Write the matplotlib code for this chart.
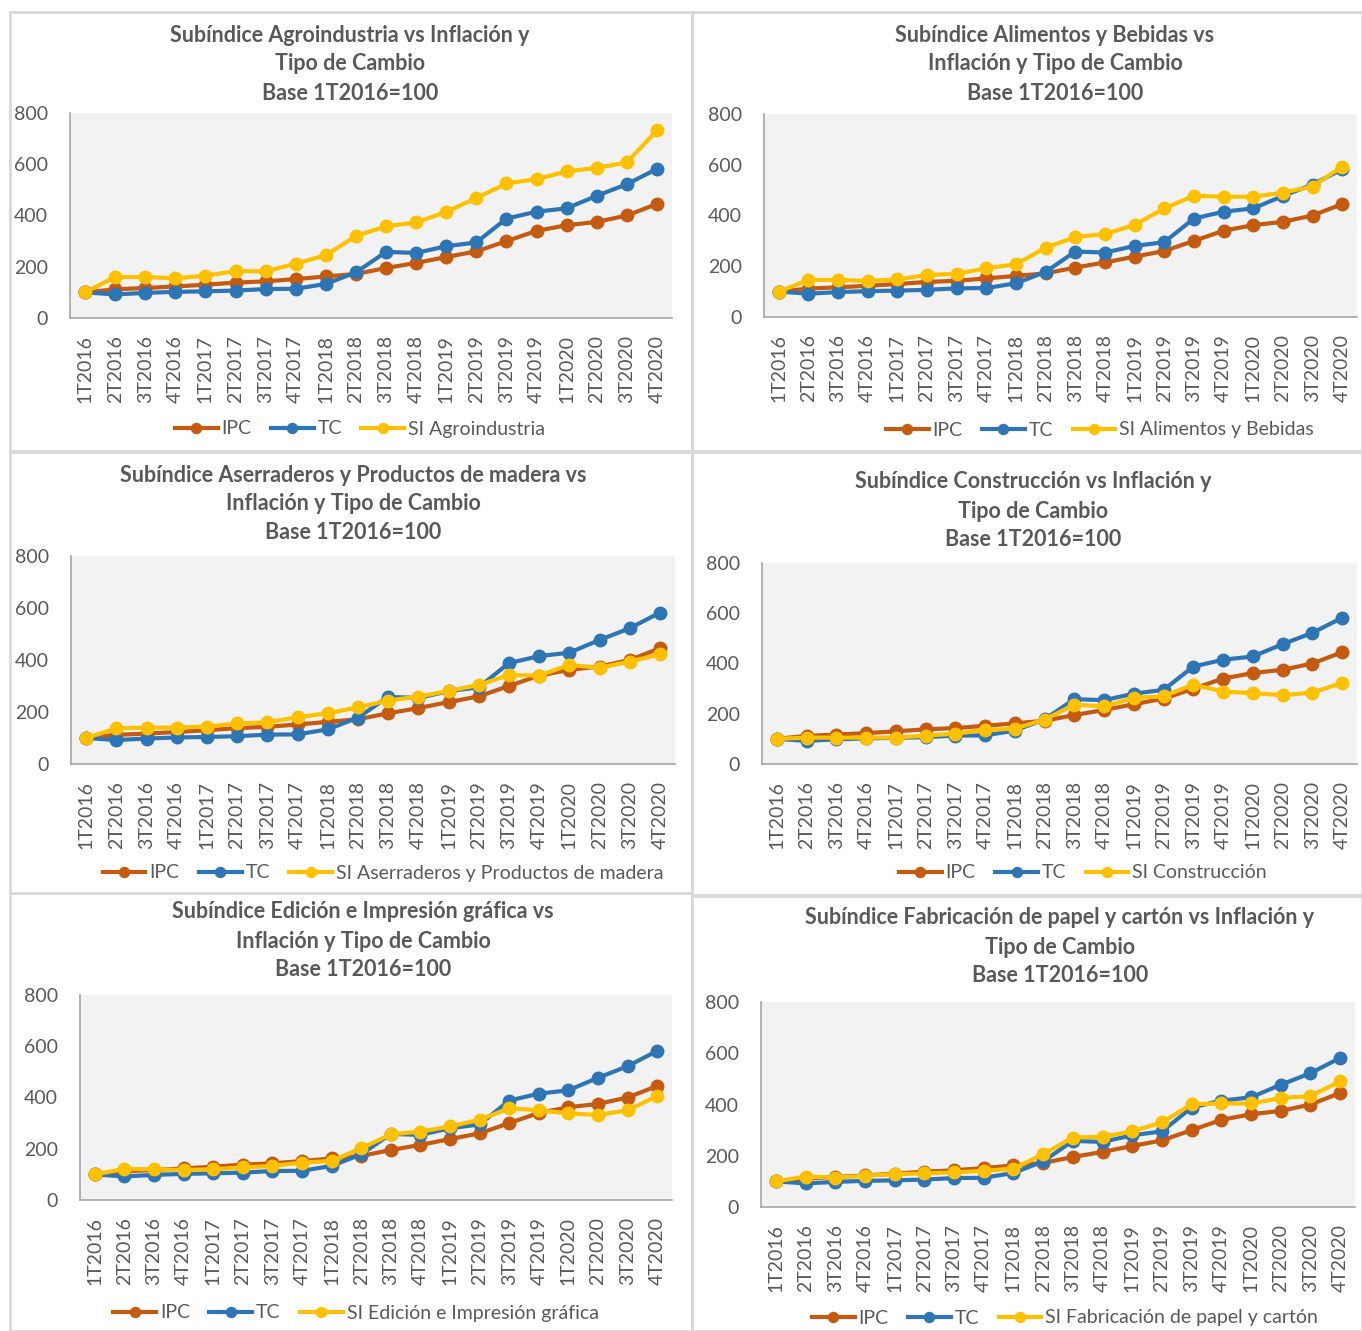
import matplotlib
matplotlib.use("Agg")
import matplotlib.pyplot as plt
from matplotlib.patches import Rectangle

W, H = 1362, 1331

trimestres = ["1T2016", "2T2016", "3T2016", "4T2016", "1T2017", "2T2017", "3T2017", "4T2017",
              "1T2018", "2T2018", "3T2018", "4T2018", "1T2019", "2T2019", "3T2019", "4T2019",
              "1T2020", "2T2020", "3T2020", "4T2020"]

ipc = [100, 112, 117, 123, 130, 138, 143, 152, 162, 172, 195, 215, 238, 260, 300, 340, 362, 375, 400, 445]
tc = [100, 92, 98, 102, 104, 107, 113, 114, 133, 178, 258, 254, 280, 295, 388, 415, 428, 477, 522, 582]

si_agro = [100, 160, 160, 155, 165, 183, 182, 212, 245, 320, 358, 373, 414, 468, 525, 542, 572, 586, 607, 732]
si_alim = [100, 146, 146, 142, 148, 166, 170, 192, 208, 273, 315, 327, 363, 428, 478, 474, 474, 490, 514, 593]
si_aserr = [100, 137, 140, 140, 144, 156, 160, 180, 195, 218, 244, 259, 281, 304, 342, 340, 381, 370, 394, 422]
si_const = [100, 105, 105, 105, 105, 113, 121, 135, 141, 177, 236, 230, 263, 270, 316, 288, 282, 274, 284, 323]
si_edic = [100, 121, 120, 117, 120, 127, 133, 146, 152, 202, 256, 267, 287, 313, 358, 350, 338, 332, 350, 406]
si_papel = [100, 119, 115, 122, 128, 131, 135, 141, 150, 206, 271, 274, 295, 330, 401, 404, 404, 425, 433, 490]

yticks = [0, 200, 400, 600, 800]

# (title lines, SI label, SI values, chart box, plot box, title x, title y, legend x, legend y)
paneles = [
    (["Subíndice Agroindustria vs Inflación y", "Tipo de Cambio", "Base 1T2016=100"],
     "SI Agroindustria", si_agro, (10, 12, 692, 451), (70, 113, 672, 318), 350, 35, 360, 429),
    (["Subíndice Alimentos y Bebidas vs", "Inflación y Tipo de Cambio", "Base 1T2016=100"],
     "SI Alimentos y Bebidas", si_alim, (692, 12, 1362, 451), (764, 114, 1357, 317), 1055, 35, 1100, 430),
    (["Subíndice Aserraderos y Productos de madera vs", "Inflación y Tipo de Cambio", "Base 1T2016=100"],
     "SI Aserraderos y Productos de madera", si_aserr, (10, 452, 692, 893), (71, 556, 675, 764), 353, 475, 383, 873),
    (["Subíndice Construcción vs Inflación y", "Tipo de Cambio", "Base 1T2016=100"],
     "SI Construcción", si_const, (692, 452, 1362, 895), (762, 563, 1357, 764), 1033, 482, 1083, 873),
    (["Subíndice Edición e Impresión gráfica vs", "Inflación y Tipo de Cambio", "Base 1T2016=100"],
     "SI Edición e Impresión gráfica", si_edic, (10, 893, 692, 1331), (80, 995, 672, 1200), 363, 912, 356, 1313),
    (["Subíndice Fabricación de papel y cartón vs Inflación y", "Tipo de Cambio", "Base 1T2016=100"],
     "SI Fabricación de papel y cartón", si_papel, (692, 896, 1362, 1331), (761, 1002, 1355, 1207), 1060, 918, 1065, 1318),
]

GRIS = "#595959"
plt.rcParams["font.family"] = ["Lato", "DejaVu Sans"]

fig = plt.figure(figsize=(W / 100, H / 100), dpi=100)

for titulo, etiqueta, si, caja, area, tx, ty, lx, ly in paneles:
    bx0, by0, bx1, by1 = caja
    fig.patches.append(Rectangle((bx0 / W, 1 - by1 / H), (bx1 - bx0) / W, (by1 - by0) / H,
                                 transform=fig.transFigure, fill=False, edgecolor="#d9d9d9", lw=2))
    x0, y0, x1, y1 = area
    ax = fig.add_axes([x0 / W, 1 - y1 / H, (x1 - x0) / W, (y1 - y0) / H])
    ax.set_facecolor("#f2f2f2")
    x = range(len(trimestres))
    l1, = ax.plot(x, ipc, color="#C55A11", lw=3, marker="o", ms=9, label="IPC")
    l2, = ax.plot(x, tc, color="#2E75B6", lw=3, marker="o", ms=9, label="TC")
    l3, = ax.plot(x, si, color="#FFC000", lw=3, marker="o", ms=9, label=etiqueta)
    ax.set_xlim(-0.5, len(trimestres) - 0.5)
    ax.set_ylim(0, 800)
    ax.set_yticks(yticks)
    ax.set_xticks(list(x))
    ax.set_xticklabels(trimestres, rotation=90)
    ax.tick_params(axis="y", length=0, pad=16, labelsize=14, labelcolor=GRIS)
    ax.tick_params(axis="x", length=0, pad=12, labelsize=14, labelcolor=GRIS)
    for s in ["top", "right"]:
        ax.spines[s].set_visible(False)
    for s in ["left", "bottom"]:
        ax.spines[s].set_color("#a6a6a6")
        ax.spines[s].set_linewidth(1.2)
    for i, linea in enumerate(titulo):
        fig.text(tx / W, 1 - (ty + 29 * i) / H, linea, ha="center", va="center",
                 fontsize=15.5, fontweight="bold", color=GRIS)
    fig.legend(handles=[l1, l2, l3], loc="center", bbox_to_anchor=(lx / W, 1 - ly / H),
               ncol=3, frameon=False, fontsize=14, labelcolor=GRIS, handlelength=2.2,
               handletextpad=0.2, columnspacing=1.0, markerscale=0.8)

fig.savefig("out.png", dpi=100, facecolor="white")
